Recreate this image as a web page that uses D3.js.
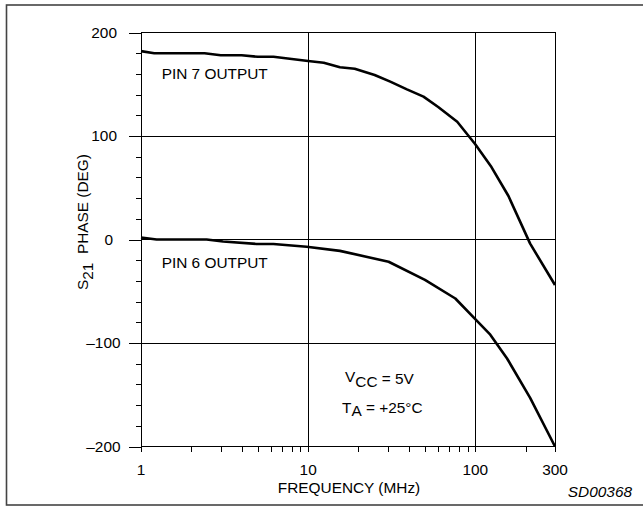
<!DOCTYPE html>
<html><head><meta charset="utf-8">
<script src="https://cdn.jsdelivr.net/npm/d3@7"></script>
<style>
body{margin:0;background:#fff}
text{font-family:"Liberation Sans",Arial,Helvetica,sans-serif;font-size:14px;fill:#000}
</style>
</head><body><svg id="c" width="643" height="506"></svg>
<script>
// ---- data ----
const freq7  = [1, 1.2, 2.4, 3, 4, 5, 6.2, 10, 12.4, 15.5, 19, 25, 31, 39, 49, 60, 78, 100, 125, 158, 213, 300];
const phase7 = [182, 180, 180, 178, 178, 176.5, 176.5, 172.5, 170.8, 166.4, 165, 159, 152.5, 145, 138, 128, 113.8, 92, 70, 42, -4, -44];
const freq6  = [1, 1.24, 2.47, 3.1, 4.9, 6.2, 9.8, 15.5, 30.3, 50, 76, 100, 123, 155, 213, 300];
const phase6 = [2, 0, 0, -2, -4.3, -4.3, -7, -11, -21.5, -39, -57, -77, -92, -115, -153, -200];
const seriesLabels = ["PIN 7 OUTPUT", "PIN 6 OUTPUT"];
const xMajorTicks = [1, 10, 100, 300];
const xTickLabels = ["1", "10", "100", "300"];
const xMinorTicks = [2, 3, 4, 5, 6, 7, 8, 9, 20, 30, 40, 50, 60, 70, 80, 90, 200];
const xGridValues = [10, 100];
const yMajorTicks = [-200, -100, 0, 100, 200];
const yTickLabels = ["\u2013200", "\u2013100", "0", "100", "200"];
const yMinorTicks = [-180, -160, -140, -120, -80, -60, -40, -20, 20, 40, 60, 80, 120, 140, 160, 180];
const yGridValues = [-100, 0, 100];
const xTitle = "FREQUENCY (MHz)";
const figId = "SD00368";

// ---- layout ----
const svg = d3.select("#c");
const x = d3.scaleLog().domain([1, 300]).range([141, 555]);
const y = d3.scaleLinear().domain([-200, 200]).range([446.5, 32.5]);
const SX = 1.1; // horizontal stretch of the original Helvetica lettering

function stext(parent, px, py, anchor, str, extra) {
  const t = parent.append("text")
    .attr("transform", `translate(${px},${py}) scale(${SX},1)`)
    .attr("text-anchor", anchor)
    .text(str);
  if (extra) extra(t);
  return t;
}

// outer frame
svg.append("rect").attr("x", 6.5).attr("y", 5).attr("width", 700).attr("height", 500)
  .attr("fill", "none").attr("stroke", "#444").attr("stroke-width", 1.6);

// grid
const grid = svg.append("g").attr("stroke", "#000").attr("stroke-width", 1).attr("shape-rendering", "crispEdges");
grid.selectAll(".gx").data(xGridValues).join("line")
  .attr("x1", d => x(d)).attr("x2", d => x(d)).attr("y1", y(200)).attr("y2", y(-200));
grid.selectAll(".gy").data(yGridValues).join("line")
  .attr("y1", d => y(d)).attr("y2", d => y(d)).attr("x1", x(1)).attr("x2", x(300));
grid.append("rect").attr("x", x(1)).attr("y", y(200)).attr("width", x(300) - x(1)).attr("height", y(-200) - y(200))
  .attr("fill", "none");

// axes (ticks)
const axY = svg.append("g").attr("transform", `translate(${x(1)},0)`).attr("shape-rendering", "crispEdges");
axY.call(d3.axisLeft(y).tickValues(yMajorTicks).tickSize(12).tickFormat("").tickSizeOuter(0));
const axYm = svg.append("g").attr("transform", `translate(${x(1)},0)`).attr("shape-rendering", "crispEdges");
axYm.call(d3.axisLeft(y).tickValues(yMinorTicks).tickSize(5).tickFormat("").tickSizeOuter(0));
const axX = svg.append("g").attr("transform", `translate(0,${y(-200)})`).attr("shape-rendering", "crispEdges");
axX.call(d3.axisBottom(x).tickValues(xMajorTicks.concat(xMinorTicks)).tickSize(5).tickFormat("").tickSizeOuter(0));
svg.selectAll(".domain").remove();
svg.selectAll(".tick line").attr("stroke", "#000");

// tick labels (hand-set in the original: negatives sit further right, zero further left)
const labs = svg.append("g");
yMajorTicks.forEach((v, i) => stext(labs, v < 0 ? 120.5 : (v === 0 ? 113 : 117), y(v) + 5.2, "end", yTickLabels[i]));
xMajorTicks.forEach((v, i) => stext(labs, x(v), 475, "middle", xTickLabels[i]));

// axis titles
stext(svg, 349, 493, "middle", xTitle);
svg.append("text")
  .attr("transform", `translate(88,290) rotate(-90) scale(${SX},1)`)
  .attr("text-anchor", "start")
  .call(t => {
    t.append("tspan").text("S");
    t.append("tspan").attr("dy", 5).text("21");
    t.append("tspan").attr("dy", -5).text("\u00a0\u00a0PHASE (DEG)");
  });

// curves
const line = d3.line().x(d => x(d[0])).y(d => y(d[1]));
const s7 = freq7.map((f, i) => [f, phase7[i]]);
const s6 = freq6.map((f, i) => [f, phase6[i]]);
svg.append("g").selectAll("path").data([s7, s6]).join("path")
  .attr("d", line).attr("fill", "none").attr("stroke", "#000")
  .attr("stroke-width", 2.6).attr("stroke-linejoin", "round");

// series labels
stext(svg, 161.7, 79.3, "start", seriesLabels[0]);
stext(svg, 161.7, 268.3, "start", seriesLabels[1]);

// conditions
stext(svg, 345, 384, "start", "", t => {
  t.append("tspan").attr("dy", -2.3).text("V");
  t.append("tspan").attr("dy", 5).text("CC");
  t.append("tspan").attr("dy", -2.7).text(" = 5V");
});
stext(svg, 342, 413.3, "start", "", t => {
  t.append("tspan").text("T");
  t.append("tspan").attr("dy", 3).text("A");
  t.append("tspan").attr("dy", -3).text(" = +25\u00b0C");
});

// figure id
stext(svg, 632, 496.7, "end", figId, t => t.attr("font-style", "italic"));
</script>
</body></html>
